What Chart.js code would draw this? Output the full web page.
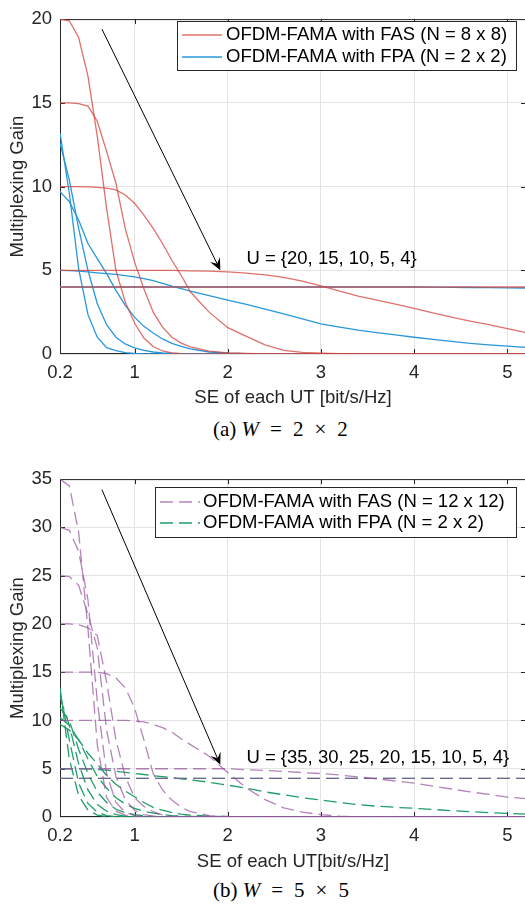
<!DOCTYPE html>
<html>
<head>
<meta charset="utf-8">
<script src="https://cdn.jsdelivr.net/npm/chart.js@4.4.1/dist/chart.umd.min.js"></script>
<style>
  html, body { margin: 0; padding: 0; background: #fff; }
  body { width: 525px; height: 906px; position: relative; overflow: hidden; }
  canvas { position: absolute; left: 0; }
  .caption { position: absolute; left: 213px; white-space: nowrap;
             font-family: "Liberation Serif", "DejaVu Serif", serif; font-size: 21px; color: #000; }
  .caption i { font-style: italic; }
  .caption .op { margin: 0 11px; }
</style>
</head>
<body>
<canvas id="chartA" width="527" height="410" style="top:0"></canvas>
<div class="caption" style="top:417px">(a) <i>W</i><span class="op">=</span>2<span class="op">×</span>2</div>
<canvas id="chartB" width="527" height="415" style="top:460px"></canvas>
<div class="caption" style="top:878px">(b) <i>W</i><span class="op">=</span>5<span class="op">×</span>5</div>

<script>
// SE of each UT [bit/s/Hz], shared by every curve
const xGrid = [0.2, 0.3, 0.4, 0.5, 0.6, 0.7, 0.8, 0.9, 1.0, 1.1, 1.2, 1.3, 1.4, 1.5, 1.6,
               1.8, 2.0, 2.2, 2.4, 2.6, 2.8, 3.0, 3.2, 3.4, 3.6, 3.8, 4.0, 4.2, 4.4, 4.6, 4.8, 5.0, 5.2];
const xTicks = [0.2, 1, 2, 3, 4, 5];

// (a) W = 2 x 2 : FAS N = 8 x 8, users U = 20, 15, 10, 5, 4
const fasA20 = [20, 19.9, 18.9, 16.6, 13.0, 8.7, 5.0, 3.1, 1.85, 0.95, 0.45, 0.18, 0.06, 0.02, 0.01,
                0, 0, 0, 0, 0, 0, 0, 0, 0, 0, 0, 0, 0, 0, 0, 0, 0, 0];
const fasA15 = [15, 15, 14.95, 14.8, 13.9, 12.1, 10.2, 7.5, 5.5, 3.9, 2.5, 1.6, 1.0, 0.65, 0.42,
                0.17, 0.07, 0.03, 0.01, 0, 0, 0, 0, 0, 0, 0, 0, 0, 0, 0, 0, 0, 0];
const fasA10 = [10, 10, 10, 9.98, 9.95, 9.9, 9.8, 9.5, 9.0, 8.3, 7.5, 6.6, 5.6, 4.7, 3.7,
                2.5, 1.57, 1.05, 0.55, 0.22, 0.1, 0.05, 0.02, 0, 0, 0, 0, 0, 0, 0, 0, 0, 0];
const fasA5  = [5, 5, 5, 5, 5, 5, 5, 5, 5, 5, 5, 5, 5, 4.98, 4.97,
                4.95, 4.9, 4.83, 4.73, 4.57, 4.35, 4.07, 3.75, 3.46, 3.22, 2.98, 2.73, 2.45, 2.2, 1.97, 1.75, 1.51, 1.28];
const fasA4  = [4, 4, 4, 4, 4, 4, 4, 4, 4, 4, 4, 4, 4, 4, 4,
                4, 4, 4, 4, 4, 4, 4, 4, 4, 4, 4, 4, 4, 4, 4, 4, 4, 4];
// (a) FPA N = 2 x 2
const fpaA20 = [13.2, 9.6, 5.1, 2.35, 1.0, 0.38, 0.2, 0.08, 0.03, 0.01, 0, 0, 0, 0, 0,
                0, 0, 0, 0, 0, 0, 0, 0, 0, 0, 0, 0, 0, 0, 0, 0, 0, 0];
const fpaA15 = [12.6, 10.4, 7.5, 5.0, 3.0, 1.75, 1.0, 0.6, 0.36, 0.22, 0.12, 0.07, 0.04, 0.02, 0.01,
                0, 0, 0, 0, 0, 0, 0, 0, 0, 0, 0, 0, 0, 0, 0, 0, 0, 0];
const fpaA10 = [9.7, 9.1, 8.0, 6.6, 5.7, 4.8, 3.8, 2.9, 2.2, 1.65, 1.25, 0.9, 0.64, 0.45, 0.3,
                0.12, 0.05, 0.02, 0, 0, 0, 0, 0, 0, 0, 0, 0, 0, 0, 0, 0, 0, 0];
const fpaA5  = [5, 4.98, 4.95, 4.9, 4.85, 4.8, 4.75, 4.68, 4.6, 4.5, 4.38, 4.22, 4.05, 3.9, 3.75,
                3.48, 3.22, 2.96, 2.68, 2.4, 2.1, 1.8, 1.6, 1.42, 1.28, 1.14, 1.0, 0.87, 0.75, 0.64, 0.55, 0.47, 0.4];
const fpaA4  = [4, 4, 4, 4, 4, 4, 4, 4, 4, 4, 4, 4, 4, 4, 4,
                4, 4, 4, 4, 4, 4, 4, 4, 4, 4, 4, 4, 3.99, 3.98, 3.97, 3.96, 3.95, 3.94];

// (b) W = 5 x 5 : FAS N = 12 x 12, users U = 35, 30, 25, 20, 15, 10, 5, 4
const fasB35 = [35, 34.3, 29.5, 19.5, 7.5, 2.0, 0.6, 0.2, 0.05, 0, 0, 0, 0, 0, 0,
                0, 0, 0, 0, 0, 0, 0, 0, 0, 0, 0, 0, 0, 0, 0, 0, 0, 0];
const fasB30 = [30, 29.7, 27.5, 22.5, 12, 4.5, 1.5, 0.5, 0.15, 0.04, 0, 0, 0, 0, 0,
                0, 0, 0, 0, 0, 0, 0, 0, 0, 0, 0, 0, 0, 0, 0, 0, 0, 0];
const fasB25 = [25, 24.9, 24, 21, 17.5, 9, 4.2, 1.8, 0.7, 0.25, 0.08, 0.02, 0, 0, 0,
                0, 0, 0, 0, 0, 0, 0, 0, 0, 0, 0, 0, 0, 0, 0, 0, 0, 0];
const fasB20 = [20, 20, 19.9, 19.6, 18.8, 14, 8, 4.2, 2.0, 1.1, 0.55, 0.22, 0.08, 0.02, 0,
                0, 0, 0, 0, 0, 0, 0, 0, 0, 0, 0, 0, 0, 0, 0, 0, 0, 0];
const fasB15 = [15, 15, 15, 15, 15, 14.85, 14.4, 13.4, 11.3, 8.0, 4.5, 2.8, 1.75, 1.0, 0.55,
                0.15, 0.05, 0.01, 0, 0, 0, 0, 0, 0, 0, 0, 0, 0, 0, 0, 0, 0, 0];
const fasB10 = [10, 10, 10, 10, 10, 10, 10, 10, 9.95, 9.85, 9.6, 9.25, 8.8, 8.1, 7.5,
                6.3, 4.6, 3.0, 1.8, 0.95, 0.5, 0.25, 0.08, 0.02, 0, 0, 0, 0, 0, 0, 0, 0, 0];
const fasB5  = [5, 5, 5, 5, 5, 5, 5, 5, 5, 5, 5, 5, 5, 5, 5,
                5, 5, 4.9, 4.82, 4.72, 4.6, 4.5, 4.35, 4.15, 3.95, 3.73, 3.5, 3.2, 2.9, 2.6, 2.35, 2.06, 1.9];
const fasB4  = [4, 4, 4, 4, 4, 4, 4, 4, 4, 4, 4, 4, 4, 4, 4,
                4, 4, 4, 4, 4, 4, 4, 4, 4, 4, 4, 4, 4, 4, 4, 4, 4, 4];
// (b) FPA N = 2 x 2
const fpaB35 = [13.4, 6.0, 2.2, 0.7, 0.2, 0.05, 0, 0, 0, 0, 0, 0, 0, 0, 0,
                0, 0, 0, 0, 0, 0, 0, 0, 0, 0, 0, 0, 0, 0, 0, 0, 0, 0];
const fpaB30 = [13.0, 8.0, 3.5, 1.4, 0.5, 0.15, 0.05, 0, 0, 0, 0, 0, 0, 0, 0,
                0, 0, 0, 0, 0, 0, 0, 0, 0, 0, 0, 0, 0, 0, 0, 0, 0, 0];
const fpaB25 = [12.4, 9.5, 5.5, 2.8, 1.3, 0.6, 0.25, 0.1, 0.04, 0, 0, 0, 0, 0, 0,
                0, 0, 0, 0, 0, 0, 0, 0, 0, 0, 0, 0, 0, 0, 0, 0, 0, 0];
const fpaB20 = [11.3, 10.0, 7.0, 4.5, 2.6, 1.5, 0.8, 0.45, 0.25, 0.12, 0.05, 0, 0, 0, 0,
                0, 0, 0, 0, 0, 0, 0, 0, 0, 0, 0, 0, 0, 0, 0, 0, 0, 0];
const fpaB15 = [10.3, 9.5, 8.0, 6.0, 4.2, 3.0, 2.0, 1.35, 0.9, 0.6, 0.4, 0.25, 0.15, 0.09, 0.05,
                0.01, 0, 0, 0, 0, 0, 0, 0, 0, 0, 0, 0, 0, 0, 0, 0, 0, 0];
const fpaB10 = [9.6, 9.0, 8.0, 6.6, 5.5, 4.3, 3.4, 2.7, 2.1, 1.5, 1.0, 0.7, 0.45, 0.3, 0.2,
                0.08, 0.03, 0, 0, 0, 0, 0, 0, 0, 0, 0, 0, 0, 0, 0, 0, 0, 0];
const fpaB5  = [5, 5, 5, 4.98, 4.92, 4.85, 4.75, 4.62, 4.5, 4.4, 4.28, 4.18, 4.08, 3.95, 3.85,
                3.6, 3.3, 2.98, 2.6, 2.3, 2.0, 1.75, 1.5, 1.28, 1.12, 1.0, 0.9, 0.78, 0.66, 0.55, 0.45, 0.37, 0.3];
const fpaB4  = [4, 4, 4, 4, 4, 4, 4, 4, 4, 4, 4, 4, 4, 4, 4,
                4, 4, 4, 4, 4, 4, 4, 4, 4, 4, 4, 4, 4, 4, 4, 4, 4, 4];

const legendA = ['OFDM-FAMA with FAS (N = 8 x 8)', 'OFDM-FAMA with FPA (N = 2 x 2)'];
const legendB = ['OFDM-FAMA with FAS (N = 12 x 12)', 'OFDM-FAMA with FPA (N = 2 x 2)'];
const noteA = 'U = {20, 15, 10, 5, 4}';
const noteB = 'U = {35, 30, 25, 20, 15, 10, 5, 4}';

const RED = 'rgba(214, 64, 56, 0.75)';
const BLUE = '#2897da';
const PURPLE = 'rgba(150, 80, 158, 0.7)';
const GREEN = '#1f9e68';
const DASH = [13, 6];
const FONT = '"Liberation Sans", Arial, sans-serif';
const SIZE = 18.5;
const INK = '#262626';

Chart.defaults.font.family = FONT;
Chart.defaults.color = INK;

function line(ys, color, dash) {
  return {
    data: xGrid.map((x, i) => ({ x: x, y: ys[i] })),
    borderColor: color,
    borderWidth: 1.3,
    borderDash: dash || [],
    pointRadius: 0,
    tension: 0,
    fill: false
  };
}

// axes box with MATLAB-style inward ticks, drawn under the curves
const framePlugin = {
  id: 'frame',
  beforeDatasetsDraw(chart) {
    const { ctx, chartArea: a, scales } = chart;
    ctx.save();
    ctx.strokeStyle = INK;
    ctx.lineWidth = 1;
    ctx.strokeRect(a.left + 0.5, a.top + 0.5, a.right - a.left - 1, a.bottom - a.top - 1);
    ctx.beginPath();
    scales.x.ticks.forEach(t => {
      const px = Math.round(scales.x.getPixelForValue(t.value)) + 0.5;
      if (px < a.left + 3 || px > a.right - 3) return;
      ctx.moveTo(px, a.bottom); ctx.lineTo(px, a.bottom - 5);
      ctx.moveTo(px, a.top); ctx.lineTo(px, a.top + 5);
    });
    scales.y.ticks.forEach(t => {
      const py = Math.round(scales.y.getPixelForValue(t.value)) + 0.5;
      if (py < a.top + 3 || py > a.bottom - 3) return;
      ctx.moveTo(a.left, py); ctx.lineTo(a.left + 5, py);
      ctx.moveTo(a.right, py); ctx.lineTo(a.right - 5, py);
    });
    ctx.stroke();
    ctx.restore();
  }
};

// arrow + "U = {...}" note, placed in data units
const notePlugin = {
  id: 'note',
  afterDatasetsDraw(chart, args, o) {
    const { ctx, scales } = chart;
    const x0 = scales.x.getPixelForValue(o.from[0]), y0 = scales.y.getPixelForValue(o.from[1]);
    const x1 = scales.x.getPixelForValue(o.to[0]), y1 = scales.y.getPixelForValue(o.to[1]);
    const len = Math.hypot(x1 - x0, y1 - y0);
    const dx = (x1 - x0) / len, dy = (y1 - y0) / len;
    const hl = 12, hw = 5.5;
    ctx.save();
    ctx.strokeStyle = '#000';
    ctx.fillStyle = '#000';
    ctx.lineWidth = 1;
    ctx.beginPath();
    ctx.moveTo(x0, y0);
    ctx.lineTo(x1 - dx * hl * 0.6, y1 - dy * hl * 0.6);
    ctx.stroke();
    ctx.beginPath();
    ctx.moveTo(x1, y1);
    ctx.lineTo(x1 - dx * hl - dy * hw, y1 - dy * hl + dx * hw);
    ctx.lineTo(x1 - dx * hl * 0.6, y1 - dy * hl * 0.6);
    ctx.lineTo(x1 - dx * hl + dy * hw, y1 - dy * hl - dx * hw);
    ctx.closePath();
    ctx.fill();
    ctx.font = o.font;
    ctx.textBaseline = 'middle';
    ctx.fillText(o.text, scales.x.getPixelForValue(o.textAt[0]), scales.y.getPixelForValue(o.textAt[1]));
    ctx.restore();
  }
};

// boxed legend inside the axes, one row per method
const legendPlugin = {
  id: 'boxLegend',
  afterDraw(chart, args, o) {
    const ctx = chart.ctx;
    ctx.save();
    ctx.fillStyle = '#fff';
    ctx.fillRect(o.x, o.y, o.w, o.h);
    ctx.strokeStyle = INK;
    ctx.lineWidth = 1;
    ctx.strokeRect(o.x + 0.5, o.y + 0.5, o.w, o.h);
    o.items.forEach((it, i) => {
      const y = o.y + o.row0 + i * o.rowGap;
      ctx.strokeStyle = it.color;
      ctx.lineWidth = 1.3;
      ctx.setLineDash(it.dash);
      ctx.beginPath();
      ctx.moveTo(o.x + 5, y);
      ctx.lineTo(o.x + 45, y);
      ctx.stroke();
      ctx.setLineDash([]);
      ctx.fillStyle = '#000';
      ctx.font = o.font;
      ctx.textBaseline = 'middle';
      ctx.fillText(it.text, o.x + o.textX, y);
    });
    ctx.restore();
  }
};

function makeChart(id, cfg) {
  const H = cfg.height;
  return new Chart(document.getElementById(id), {
    type: 'line',
    data: { datasets: cfg.datasets },
    plugins: [framePlugin, notePlugin, legendPlugin],
    options: {
      responsive: false,
      animation: false,
      events: [],
      // right edge of the axes sits just past the visible 525 px
      layout: { padding: { left: 0, right: 1, top: cfg.top, bottom: 0 } },
      plugins: {
        legend: { display: false },
        tooltip: { enabled: false },
        note: cfg.note,
        boxLegend: cfg.legend
      },
      scales: {
        x: {
          type: 'linear', min: 0.2, max: 5.2,
          afterBuildTicks: s => { s.ticks = xTicks.map(v => ({ value: v })); },
          afterFit: s => { s.height = H - cfg.bottom; },
          ticks: { autoSkip: false, maxRotation: 0, padding: 8, font: { size: SIZE }, color: INK,
                   callback: v => String(v) },
          grid: { color: '#e3e3e3', drawTicks: false },
          border: { display: false },
          title: { display: true, text: cfg.xTitle, font: { size: SIZE }, color: INK,
                   padding: { top: 0, bottom: cfg.xTitlePad } }
        },
        y: {
          min: 0, max: cfg.yMax,
          afterFit: s => { s.width = 60; },
          ticks: { stepSize: 5, padding: 8, font: { size: SIZE }, color: INK },
          grid: { color: '#e3e3e3', drawTicks: false },
          border: { display: false },
          title: { display: true, text: 'Multiplexing Gain', font: { size: SIZE }, color: INK,
                   padding: { top: 7, bottom: 0 } }
        }
      }
    }
  });
}

makeChart('chartA', {
  height: 410, top: 10, bottom: 354, yMax: 20, xTitlePad: 1,
  xTitle: 'SE of each UT [bit/s/Hz]',
  datasets: [
    line(fasA20, RED), line(fasA15, RED), line(fasA10, RED), line(fasA5, RED), line(fasA4, RED),
    line(fpaA20, BLUE), line(fpaA15, BLUE), line(fpaA10, BLUE), line(fpaA5, BLUE), line(fpaA4, BLUE)
  ],
  note: { from: [0.65, 19.4], to: [1.92, 5.0], textAt: [2.2, 5.7], text: noteA, font: SIZE + 'px ' + FONT },
  legend: { x: 177, y: 21, w: 339, h: 49, row0: 14, rowGap: 22, textX: 49, font: SIZE + 'px ' + FONT,
            items: [{ text: legendA[0], color: RED, dash: [] }, { text: legendA[1], color: BLUE, dash: [] }] }
});

makeChart('chartB', {
  height: 415, top: 17, bottom: 357, yMax: 35, xTitlePad: 2,
  xTitle: 'SE of each UT[bit/s/Hz]',
  datasets: [
    line(fasB35, PURPLE, DASH), line(fasB30, PURPLE, DASH), line(fasB25, PURPLE, DASH), line(fasB20, PURPLE, DASH),
    line(fasB15, PURPLE, DASH), line(fasB10, PURPLE, DASH), line(fasB5, PURPLE, DASH), line(fasB4, PURPLE, DASH),
    line(fpaB35, GREEN, DASH), line(fpaB30, GREEN, DASH), line(fpaB25, GREEN, DASH), line(fpaB20, GREEN, DASH),
    line(fpaB15, GREEN, DASH), line(fpaB10, GREEN, DASH), line(fpaB5, GREEN, DASH), line(fpaB4, GREEN, DASH)
  ],
  note: { from: [0.65, 33.9], to: [1.92, 5.4], textAt: [2.2, 6.1], text: noteB, font: SIZE + 'px ' + FONT },
  legend: { x: 155, y: 27, w: 361, h: 50, row0: 15, rowGap: 21, textX: 48, font: SIZE + 'px ' + FONT,
            items: [{ text: legendB[0], color: PURPLE, dash: DASH }, { text: legendB[1], color: GREEN, dash: DASH }] }
});
</script>
</body>
</html>
